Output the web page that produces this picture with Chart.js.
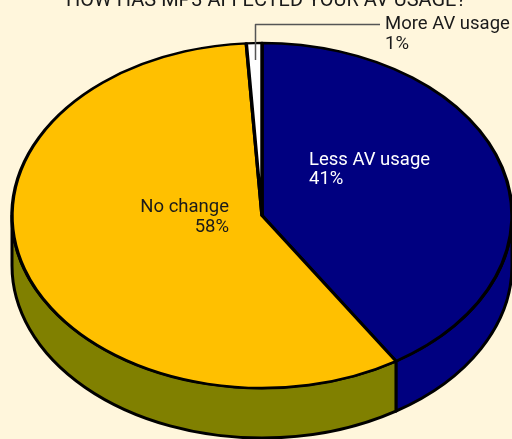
<!DOCTYPE html>
<html>
<head>
<meta charset="utf-8">
<script src="https://cdn.jsdelivr.net/npm/chart.js@4"></script>
<style>
  html, body { margin: 0; padding: 0; background: #FFF6DC; }
  #wrap { width: 512px; height: 439px; position: relative; }
</style>
</head>
<body>
<div id="wrap"><canvas id="pie"></canvas></div>
<script>
const chartTitle = "HOW HAS MP3 AFFECTED YOUR AV USAGE?";
const categories = ["Less AV usage", "No change", "More AV usage"];
const shares = [41, 58, 1];
const topColors = ["#000080", "#FFC000", "#FFFFFF"];
const sideColors = ["#000080", "#808000", "#E8E8E8"];
const labelColors = ["#FFFFFF", "#1A1A1A", "#1A1A1A"];

// where the tilted pie sits on the page
const ELL = { cx: 262, cy: 215.5, rx: 250, ry: 172.5, depth: 50 };
const FONT = '18.5px Roboto, "Liberation Sans", sans-serif';
const TITLE_FONT = '20px Roboto, "Liberation Sans", sans-serif';

const tiltPlugin = {
  id: 'tilt',
  beforeDatasetsDraw(chart) {
    const ctx = chart.ctx;
    const arcs = chart.getDatasetMeta(0).data;

    // side walls - only the front half (0..PI) can be seen
    arcs.forEach((arc, i) => {
      const s = Math.max(arc.startAngle, 0);
      const e = Math.min(arc.endAngle, Math.PI);
      if (e <= s) return;
      ctx.beginPath();
      ctx.ellipse(ELL.cx, ELL.cy, ELL.rx, ELL.ry, 0, s, e);
      ctx.ellipse(ELL.cx, ELL.cy + ELL.depth, ELL.rx, ELL.ry, 0, e, s, true);
      ctx.closePath();
      ctx.fillStyle = sideColors[i];
      ctx.fill();
      ctx.lineWidth = 3;
      ctx.lineJoin = 'round';
      ctx.strokeStyle = '#000';
      ctx.stroke();
    });

    // squash the library's circle onto the ellipse for the top face
    const a0 = arcs[0];
    ctx.save();
    ctx.translate(ELL.cx, ELL.cy);
    ctx.scale(ELL.rx / a0.outerRadius, ELL.ry / a0.outerRadius);
    ctx.translate(-a0.x, -a0.y);
  },
  afterDatasetsDraw(chart) {
    const ctx = chart.ctx;
    ctx.restore();

    ctx.save();
    ctx.textBaseline = 'alphabetic';

    // title (top of it is cut off by the frame)
    ctx.font = TITLE_FONT;
    ctx.fillStyle = '#1A1A1A';
    ctx.textAlign = 'center';
    ctx.fillText(chartTitle, 266, 6);

    ctx.font = FONT;
    // Less AV usage
    ctx.textAlign = 'left';
    ctx.fillStyle = labelColors[0];
    ctx.fillText(categories[0], 309, 165);
    ctx.fillText(shares[0] + '%', 309, 184);

    // No change
    ctx.textAlign = 'right';
    ctx.fillStyle = labelColors[1];
    ctx.fillText(categories[1], 229, 212);
    ctx.fillText(shares[1] + '%', 229, 232);

    // More AV usage, with leader line
    ctx.strokeStyle = '#555';
    ctx.lineWidth = 1.5;
    ctx.beginPath();
    ctx.moveTo(255.5, 60);
    ctx.lineTo(255.5, 24.5);
    ctx.lineTo(380, 24.5);
    ctx.stroke();
    ctx.textAlign = 'left';
    ctx.fillStyle = labelColors[2];
    ctx.fillText(categories[2], 385, 29);
    ctx.fillText(shares[2] + '%', 385, 49);
    ctx.restore();
  }
};

new Chart(document.getElementById('pie'), {
  type: 'pie',
  data: {
    labels: categories,
    datasets: [{
      data: shares,
      backgroundColor: topColors,
      borderColor: '#000',
      borderWidth: 3,
      borderJoinStyle: 'round'
    }]
  },
  options: {
    responsive: true,
    maintainAspectRatio: false,
    animation: false,
    events: [],
    layout: { padding: 0 },
    plugins: {
      legend: { display: false },
      tooltip: { enabled: false },
      title: { display: false }
    }
  },
  plugins: [tiltPlugin]
});
</script>
</body>
</html>
